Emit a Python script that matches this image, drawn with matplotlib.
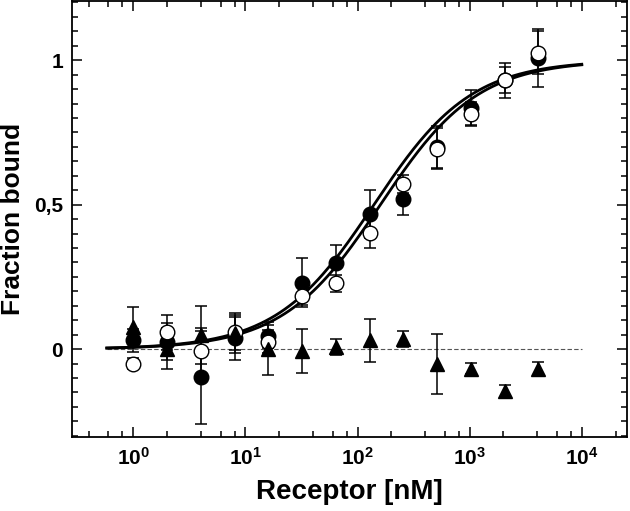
import numpy as np
import matplotlib
matplotlib.use('Agg')
import matplotlib.pyplot as plt
from matplotlib.ticker import FixedLocator, LogLocator, MultipleLocator, FuncFormatter, NullFormatter

plt.rcParams['font.family'] = ['Liberation Sans', 'DejaVu Sans']
plt.rcParams['font.weight'] = 'bold'
plt.rcParams['mathtext.fontset'] = 'custom'
plt.rcParams['mathtext.rm'] = 'Liberation Sans:bold'
plt.rcParams['mathtext.bf'] = 'Liberation Sans:bold'

# Receptor concentrations (nM)
conc = [1, 2, 4, 8, 16, 32, 64, 128, 256, 512, 1024, 2048, 4096]

# filled circles
filled = [0.031, 0.025, -0.098, 0.037, 0.045, 0.23, 0.297, 0.468, 0.520, 0.70, 0.835, 0.93, 1.008]
filled_err = [0.04, 0.064, 0.16, 0.075, 0.04, 0.085, 0.065, 0.084, 0.056, 0.072, 0.063, 0.06, 0.10]

# open circles
opened = [-0.05, 0.058, -0.007, 0.058, 0.025, 0.184, 0.228, 0.401, 0.572, 0.694, 0.815, 0.931, 1.026]
opened_err = [0.02, 0.06, 0.08, 0.06, 0.04, 0.031, 0.03, 0.052, 0.03, 0.072, 0.04, 0.045, 0.075]

# triangles
tri = [0.077, 0.002, 0.049, 0.055, 0.002, -0.006, 0.008, 0.03, 0.034, -0.052, -0.067, -0.145, -0.07]
tri_err = [0.07, 0.07, 0.1, 0.07, 0.093, 0.077, 0.028, 0.073, 0.028, 0.103, 0.02, 0.02, 0.024]

# fit parameters (Bmax, Kd in nM)
bmax_filled, kd_filled = 1.0, 140.0
bmax_open, kd_open = 1.0, 160.0

xfit = np.logspace(np.log10(0.58), 4, 300)

fig = plt.figure(figsize=(6.3, 5.11), dpi=100)
ax = fig.add_axes([0.1148, 0.1454, 0.880, 0.8526])

ax.plot([0.58, 1e4], [0, 0], ls=(0, (4, 2)), color='#555555', lw=0.8, zorder=1)
ax.plot(xfit, bmax_filled * xfit / (kd_filled + xfit), color='black', lw=2.0, zorder=2)
ax.plot(xfit, bmax_open * xfit / (kd_open + xfit), color='black', lw=2.0, zorder=2)

eb = dict(fmt='none', ecolor='black', elinewidth=1.1, capsize=4.5, capthick=1.1, zorder=3)
ax.errorbar(conc, filled, yerr=filled_err, **eb)
ax.errorbar(conc, opened, yerr=opened_err, **eb)
ax.errorbar(conc, tri, yerr=tri_err, **eb)

ax.plot(conc, filled, 'o', ms=10.5, mfc='black', mec='black', mew=1, zorder=4, ls='none')
ax.plot(conc, opened, 'o', ms=10.5, mfc='white', mec='black', mew=1, zorder=5, ls='none')
ax.plot(conc, tri, '^', ms=10, mfc='black', mec='black', mew=1, zorder=6, ls='none')

ax.set_xscale('log')
ax.set_xlim(0.2858, 25180)
ax.set_ylim(-0.303, 1.205)

ax.xaxis.set_major_locator(LogLocator(base=10, numticks=10))
ax.xaxis.set_minor_locator(LogLocator(base=10, subs=[2, 4, 6, 8], numticks=20))
ax.xaxis.set_minor_formatter(NullFormatter())
ax.xaxis.set_major_formatter(FuncFormatter(lambda v, p: r'$\mathbf{10^{%d}}$' % round(np.log10(v))))

ax.yaxis.set_major_locator(FixedLocator([0, 0.5, 1]))
ax.yaxis.set_minor_locator(MultipleLocator(0.05))
ax.set_yticklabels(['0', '0,5', '1'])

ax.tick_params(which='both', direction='in', top=True, right=True, width=1.1)
ax.tick_params(which='major', length=7.2, labelsize=15, pad=7)
ax.tick_params(which='minor', length=4.3)
ax.tick_params(axis='y', which='major', pad=6.7)
for s in ax.spines.values():
    s.set_linewidth(1.3)

ax.set_xlabel('Receptor [nM]', fontsize=20, fontweight='bold', labelpad=7.5)
ax.set_ylabel('Fraction bound', fontsize=19, fontweight='bold', labelpad=6.5)

fig.savefig('out.png', dpi=100)
